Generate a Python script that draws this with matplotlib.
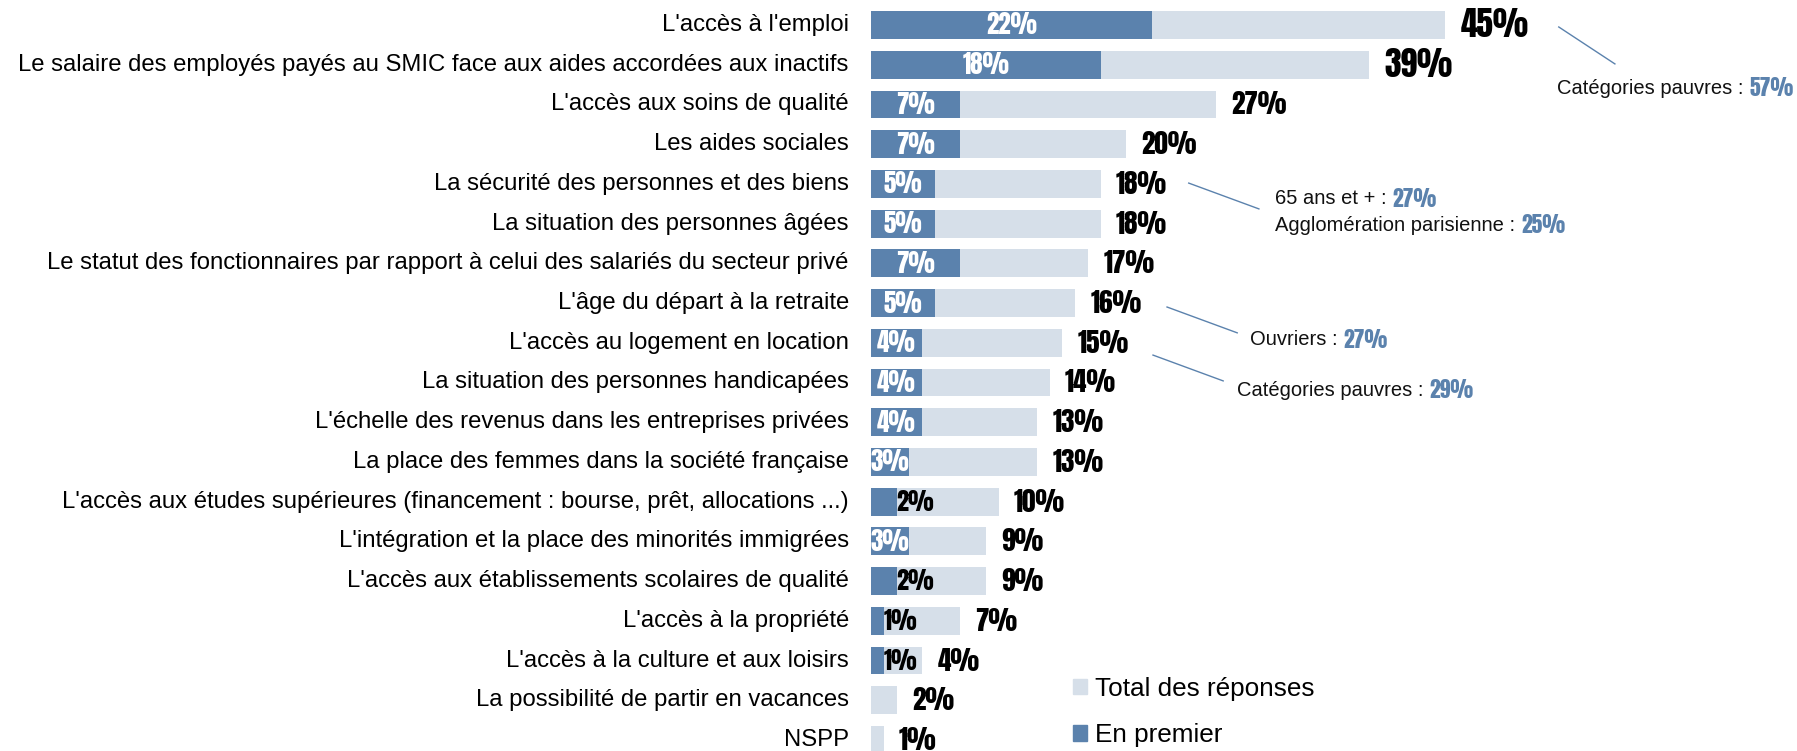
import matplotlib
matplotlib.use("Agg")
import matplotlib.pyplot as plt
from matplotlib.patches import Patch


# =========================
# Data
# =========================

CATEGORIES = [
    "L'accès à l'emploi",
    "Le salaire des employés payés au SMIC face aux aides accordées aux inactifs",
    "L'accès aux soins de qualité",
    "Les aides sociales",
    "La sécurité des personnes et des biens",
    "La situation des personnes âgées",
    "Le statut des fonctionnaires par rapport à celui des salariés du secteur privé",
    "L'âge du départ à la retraite",
    "L'accès au logement en location",
    "La situation des personnes handicapées",
    "L'échelle des revenus dans les entreprises privées",
    "La place des femmes dans la société française",
    "L'accès aux études supérieures (financement : bourse, prêt, allocations ...)",
    "L'intégration et la place des minorités immigrées",
    "L'accès aux établissements scolaires de qualité",
    "L'accès à la propriété",
    "L'accès à la culture et aux loisirs",
    "La possibilité de partir en vacances",
    "NSPP",
]

TOTAL = [45, 39, 27, 20, 18, 18, 17, 16, 15, 14, 13, 13, 10, 9, 9, 7, 4, 2, 1]
FIRST = [22, 18, 7, 7, 5, 5, 7, 5, 4, 4, 4, 3, 2, 3, 2, 1, 1, None, None]

LEGEND_LABELS = ["Total des réponses", "En premier"]

# side notes: (black part, blue part)
NOTE_TEXT = ["Catégories pauvres : ", "65 ans et + : ", "Agglomération parisienne : ",
             "Ouvriers : ", "Catégories pauvres : "]
NOTE_VALUE = ["57%", "27%", "25%", "27%", "29%"]


# =========================
# Style
# =========================

DARK = "#5b82ad"
LIGHT = "#d6dfe9"
NOTE_BLUE = "#5b82ad"
LINE_BLUE = "#5b82ad"

LABEL_FONT = "Liberation Sans"
# Impact-like condensed face for the numbers
NUM_FONT = {"family": ["Anton", "Oswald", "Open Sans Condensed", "DejaVu Sans"]}

W, H = 1797, 751
BAR_X0 = 871          # pixel where bars start
PX_PER_PCT = 12.76


def main():
    fig = plt.figure(figsize=(W / 100, H / 100), dpi=100)
    ax = fig.add_axes([BAR_X0 / W, 0, 1 - BAR_X0 / W, 1])
    ax.set_xlim(0, (W - BAR_X0) / PX_PER_PCT)
    ax.set_ylim(18.277, -0.629)
    ax.axis("off")

    rows = list(range(len(CATEGORIES)))
    ax.barh(rows, TOTAL, height=0.7, color=LIGHT, zorder=1)

    # "En premier" bars and their labels
    for i, v in enumerate(FIRST):
        if v is None:
            continue
        ax.barh(i, v, height=0.7, color=DARK, zorder=2)
        if v >= 3:
            ax.text(v / 2, i, f"{v}%", ha="center", va="center", color="white",
                    fontsize=18, zorder=3, **NUM_FONT)
        else:
            ax.text(v, i, f"{v}%", ha="left", va="center", color="black",
                    fontsize=17.5, zorder=3, **NUM_FONT)

    # total labels, the two biggest ones drawn larger
    for i, t in enumerate(TOTAL):
        size = 24 if t >= 39 else 19.5
        ax.annotate(f"{t}%", xy=(t, i), xytext=(11, 0), textcoords="offset points",
                    ha="left", va="center", fontsize=size, color="black", **NUM_FONT)

    for i, name in enumerate(CATEGORIES):
        ax.annotate(name, xy=(0, i), xytext=(-16, 0), textcoords="offset points",
                    ha="right", va="center", fontsize=17.2, family=LABEL_FONT,
                    annotation_clip=False)

    # side notes with leader lines
    note_pos = [(53.8, 1.59), (31.7, 4.38), (31.7, 5.04), (29.7, 7.93), (28.7, 9.19)]
    for black, blue, (x, y) in zip(NOTE_TEXT, NOTE_VALUE, note_pos):
        t = ax.text(x, y, black, ha="left", va="center", fontsize=14.5,
                    family=LABEL_FONT, color="#111111")
        ax.annotate(blue, xy=(1, 0.5), xycoords=t, ha="left", va="center",
                    fontsize=15.5, color=NOTE_BLUE, **NUM_FONT)

    leaders = [
        ((53.9, 0.05), (58.3, 0.98)),
        ((24.9, 3.98), (30.4, 4.63)),
        ((23.2, 7.10), (28.7, 7.75)),
        ((22.1, 8.31), (27.6, 8.96)),
    ]
    for (x1, y1), (x2, y2) in leaders:
        ax.plot([x1, x2], [y1, y2], color=LINE_BLUE, lw=1.0)

    handles = [Patch(color=LIGHT), Patch(color=DARK)]
    ax.legend(handles, LEGEND_LABELS, loc="upper left",
              bbox_to_anchor=(1073 / W, 1 - 677 / H),
              bbox_transform=fig.transFigure, frameon=False, borderpad=0,
              borderaxespad=0, handlelength=0.55, handleheight=0.52,
              handletextpad=0.3, labelspacing=0.85,
              prop={"family": LABEL_FONT, "size": 18.8})

    fig.savefig("out.png", dpi=100)


if __name__ == "__main__":
    main()
